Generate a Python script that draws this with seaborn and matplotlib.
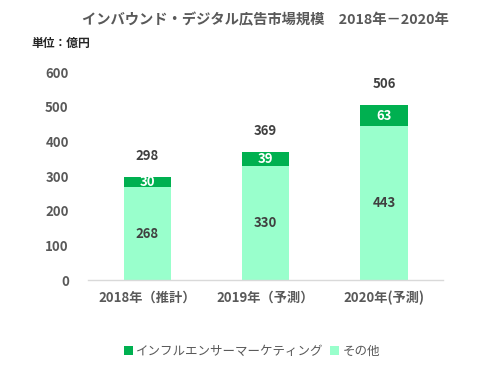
import matplotlib
matplotlib.use("Agg")
import matplotlib.pyplot as plt
import seaborn as sns
import pandas as pd
import numpy as np

categories = ["2018年（推計）", "2019年（予測）", "2020年(予測)"]
influencer = [30, 39, 63]
other = [268, 330, 443]
totals = [298, 369, 506]
yticks = [0, 100, 200, 300, 400, 500, 600]

sns.set_theme(style="white")
plt.rcParams['font.family'] = ['Noto Sans CJK JP', 'DejaVu Sans']

TXT = "#595959"
DARK = "#00B050"
LIGHT = "#99FFCC"

fig = plt.figure(figsize=(5.04, 3.75), dpi=100)
ax = fig.add_axes([0.175, 0.2533, 0.704, 0.5547])

df = pd.DataFrame({"cat": categories, "other": other, "inf": influencer, "total": totals})

sns.barplot(data=df, x="cat", y="total", color=DARK, width=0.4, ax=ax,
            saturation=1, linewidth=0, label="インフルエンサーマーケティング")
sns.barplot(data=df, x="cat", y="other", color=LIGHT, width=0.4, ax=ax,
            saturation=1, linewidth=0, label="その他")
handles, labels = ax.get_legend_handles_labels()
if ax.get_legend() is not None:
    ax.get_legend().remove()

for i, (o, f, t) in enumerate(zip(other, influencer, totals)):
    ax.text(i, o / 2, str(o), ha="center", va="center", fontsize=9.5,
            fontweight="bold", color="#404040")
    ax.text(i, o + f / 2, str(f), ha="center", va="center", fontsize=9.5,
            fontweight="bold", color="white")
    ax.text(i, t + 60, str(t), ha="center", va="center", fontsize=9.5,
            fontweight="bold", color="#404040")

ax.set_ylim(0, 600)
ax.set_xlim(-0.5, 2.5)
ax.set_yticks(yticks)
ax.set_yticklabels([str(v) for v in yticks], fontsize=9.5, fontweight="bold", color=TXT)
ax.set_xticks(range(len(categories)))
ax.set_xticklabels(categories, fontsize=9.5, fontweight="bold", color=TXT)
ax.tick_params(axis="both", length=0)
ax.tick_params(axis="y", pad=14)
ax.tick_params(axis="x", pad=8)
ax.set_xlabel("")
ax.set_ylabel("")
for s in ["top", "right", "left"]:
    ax.spines[s].set_visible(False)
ax.spines["bottom"].set_color("#D9D9D9")
ax.spines["bottom"].set_linewidth(1)

fig.text(0.526, 0.945, "インバウンド・デジタル広告市場規模　2018年－2020年",
         ha="center", va="center", fontsize=10.3, fontweight="bold", color=TXT)
fig.text(0.063, 0.883, "単位：億円", ha="left", va="center", fontsize=8.5,
         fontweight="bold", color="#262626")

leg = fig.legend(handles, labels, loc="center", bbox_to_anchor=(0.5, 0.063), ncol=2,
                 frameon=False, fontsize=9, handlelength=0.7, handleheight=0.7,
                 handletextpad=0.3, columnspacing=0.5)
for t in leg.get_texts():
    t.set_color(TXT)

fig.savefig("out.png", dpi=100)
